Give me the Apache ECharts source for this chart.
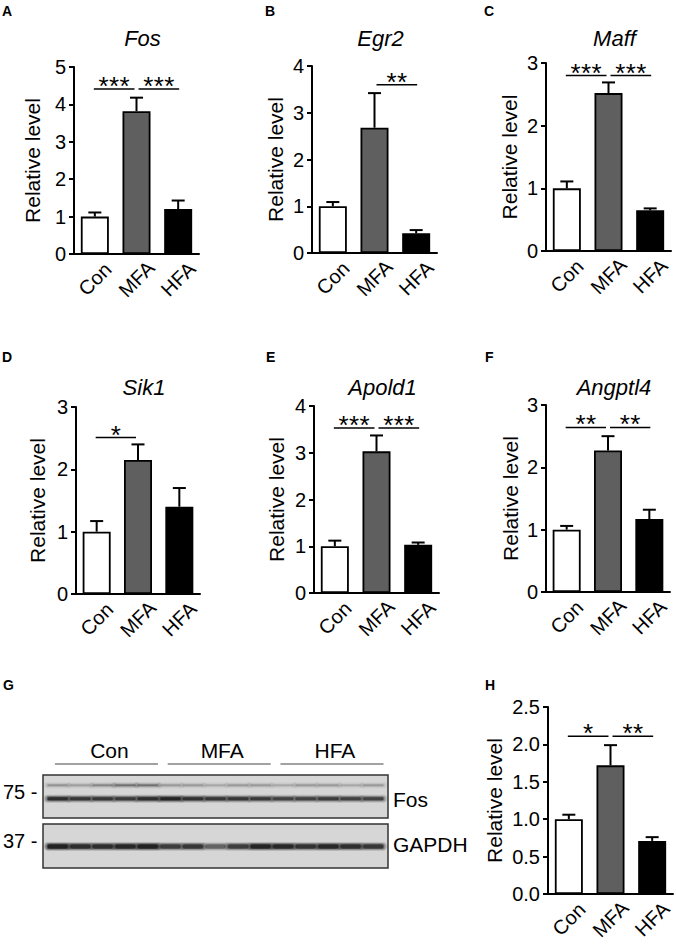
<!DOCTYPE html>
<html>
<head>
<meta charset="utf-8">
<script src="https://cdn.jsdelivr.net/npm/echarts@6/dist/echarts.min.js"></script>
<style>
html,body{margin:0;padding:0;background:#fff;}
#chart{width:676px;height:946px;}
</style>
</head>
<body>
<div id="chart"></div>
<script>
// ---------------- DATA ----------------
const categories = ['Con', 'MFA', 'HFA'];
const geneNames = ['Fos', 'Egr2', 'Maff', 'Sik1', 'Apold1', 'Angptl4'];
const panelLetters = ['A', 'B', 'C', 'D', 'E', 'F', 'G', 'H'];

// means and SEM (upper whisker) per panel
const fosMean = [1.0, 3.82, 1.2];
const fosSem = [0.11, 0.36, 0.23];
const egr2Mean = [1.0, 2.68, 0.42];
const egr2Sem = [0.09, 0.74, 0.07];
const maffMean = [1.0, 2.52, 0.65];
const maffSem = [0.11, 0.17, 0.03];
const sik1Mean = [1.0, 2.15, 1.4];
const sik1Sem = [0.17, 0.25, 0.3];
const apold1Mean = [1.0, 3.03, 1.03];
const apold1Sem = [0.12, 0.34, 0.05];
const angptl4Mean = [1.0, 2.27, 1.17];
const angptl4Sem = [0.06, 0.23, 0.15];
const proteinMean = [1.0, 1.72, 0.71];
const proteinSem = [0.06, 0.27, 0.05];

// significance brackets: [fromCategory, toCategory, level, numberOfStars]
const fosSig = [[0, 1, 4.41, 3], [1, 2, 4.41, 3]];
const egr2Sig = [[1, 2, 3.6, 2]];
const maffSig = [[0, 1, 2.8, 3], [1, 2, 2.8, 3]];
const sik1Sig = [[0, 1, 2.51, 1]];
const apold1Sig = [[0, 1, 3.53, 3], [1, 2, 3.53, 3]];
const angptl4Sig = [[0, 1, 2.64, 2], [1, 2, 2.64, 2]];
const proteinSig = [[0, 1, 2.11, 1], [1, 2, 2.11, 2]];

// y-axis maxima / tick intervals
const yMax = [5, 4, 3, 3, 4, 3, 2.5];
const yInterval = [1, 1, 1, 1, 1, 1, 0.5];

// western blot (panel G): 15 lanes, band intensities (0..1)
const blotGroups = [[1, 5], [6, 10], [11, 15]];
const fosBand = [0.85, 0.75, 0.75, 0.72, 0.85, 0.95, 0.8, 0.75, 0.75, 0.72, 0.66, 0.66, 0.7, 0.66, 0.66];
const fosUpperBand = [0.22, 0.18, 0.28, 0.38, 0.38, 0.2, 0.2, 0.15, 0.2, 0.2, 0.15, 0.2, 0.2, 0.15, 0.2];
const gapdhBand = [1.0, 0.85, 0.85, 0.9, 1.0, 0.7, 0.75, 0.45, 0.7, 0.95, 0.9, 0.8, 0.9, 0.85, 0.75];
const markerLabels = ['75 -', '37 -'];
const blotLabels = ['Fos', 'GAPDH'];

// ---------------- LAYOUT / STYLE ----------------
const FONT = 'Arial, "Liberation Sans", Helvetica, sans-serif';
const barColors = ['#ffffff', '#5f5f5f', '#000000'];
const grids = [
  {left: 74, top: 67, width: 125, height: 187},
  {left: 312, top: 66, width: 125, height: 187},
  {left: 546, top: 63, width: 125, height: 188},
  {left: 76, top: 407, width: 124, height: 187},
  {left: 314, top: 406, width: 125, height: 187},
  {left: 546, top: 405, width: 124, height: 187},
  {left: 548, top: 707, width: 125, height: 187}
];
const nameGaps = [31, 26, 26, 28, 27, 25, 43];
const titleTops = [22, 22, 22, 371, 371, 371];
const blotGrids = [
  {left: 43, top: 775, width: 345, height: 43},
  {left: 43, top: 824, width: 345, height: 44}
];

const panels = [
  [fosMean, fosSem, fosSig],
  [egr2Mean, egr2Sem, egr2Sig],
  [maffMean, maffSem, maffSig],
  [sik1Mean, sik1Sem, sik1Sig],
  [apold1Mean, apold1Sem, apold1Sig],
  [angptl4Mean, angptl4Sem, angptl4Sig],
  [proteinMean, proteinSem, proteinSig]
];

function errRender(params, api) {
  const i = api.value(0), m = api.value(1), s = api.value(2);
  const p0 = api.coord([i, m]);
  const p1 = api.coord([i, m + s]);
  return {
    type: 'group',
    children: [
      {type: 'line', shape: {x1: p0[0], y1: p0[1], x2: p1[0], y2: p1[1]}, style: {stroke: '#000', lineWidth: 2}},
      {type: 'line', shape: {x1: p1[0] - 6.5, y1: p1[1], x2: p1[0] + 6.5, y2: p1[1]}, style: {stroke: '#000', lineWidth: 2}}
    ]
  };
}

function sigRender(params, api) {
  const a = api.value(0), b = api.value(1), lv = api.value(2), n = api.value(3);
  const pa = api.coord([a, lv]), pb = api.coord([b, lv]);
  const x1 = pa[0] + (a === 1 ? 2 : -1);
  const x2 = pb[0] + (b === 1 ? -2 : 1);
  const children = [
    {type: 'line', shape: {x1: x1, y1: pa[1], x2: x2, y2: pa[1]}, style: {stroke: '#000', lineWidth: 1.5}}
  ];
  const cx = (x1 + x2) / 2;
  for (let k = 0; k < n; k++) {
    children.push({
      type: 'text',
      style: {
        text: '*', x: cx + (k - (n - 1) / 2) * 10.5, y: pa[1] - 3,
        fill: '#000', font: '26px ' + FONT,
        textAlign: 'center', textVerticalAlign: 'middle', align: 'center', verticalAlign: 'middle'
      }
    });
  }
  return {type: 'group', children: children};
}

const option = {
  animation: false,
  backgroundColor: '#ffffff',
  title: [],
  grid: [],
  xAxis: [],
  yAxis: [],
  series: [],
  graphic: []
};

panels.forEach((p, gi) => {
  const [mean, sem, sig] = p;
  const g = grids[gi];
  option.grid.push(Object.assign({containLabel: false}, g));
  option.xAxis.push({
    type: 'category', gridIndex: gi, data: categories,
    axisLine: {lineStyle: {color: '#000', width: 2}},
    axisTick: {alignWithLabel: true, length: 6, lineStyle: {color: '#000', width: 2}},
    axisLabel: {
      rotate: 45, color: '#000', fontSize: 20, fontFamily: FONT, margin: 25,
      align: 'center', verticalAlign: 'middle', interval: 0
    }
  });
  option.yAxis.push({
    type: 'value', gridIndex: gi, min: 0, max: yMax[gi], interval: yInterval[gi],
    name: 'Relative level', nameLocation: 'middle', nameGap: nameGaps[gi],
    nameTextStyle: {color: '#000', fontSize: 21, fontFamily: FONT},
    splitLine: {show: false},
    axisLine: {show: true, lineStyle: {color: '#000', width: 2}},
    axisTick: {show: true, length: 5, lineStyle: {color: '#000', width: 2}},
    axisLabel: {
      color: '#000', fontSize: 20, fontFamily: FONT, margin: 8,
      formatter: gi === 6 ? (v => v.toFixed(1)) : (v => String(v))
    }
  });
  option.series.push({
    type: 'bar', xAxisIndex: gi, yAxisIndex: gi, barWidth: 28,
    data: mean.map((v, i) => ({value: v, itemStyle: {color: barColors[i], borderColor: '#000', borderWidth: 1.8}})),
    z: 2
  });
  option.series.push({
    type: 'custom', xAxisIndex: gi, yAxisIndex: gi, renderItem: errRender,
    data: mean.map((v, i) => [i, v, sem[i]]), z: 3, clip: false
  });
  option.series.push({
    type: 'custom', xAxisIndex: gi, yAxisIndex: gi, renderItem: sigRender,
    data: sig, z: 3, clip: false
  });
  if (gi < 6) {
    option.title.push({
      text: geneNames[gi], left: g.left + g.width / 2 + 1, top: titleTops[gi], textAlign: 'center',
      textStyle: {fontSize: 22, fontStyle: 'italic', fontWeight: 'normal', color: '#000', fontFamily: FONT}
    });
  }
});

// ---- panel G: western blot ----
blotGrids.forEach((g, bi) => {
  const gi = 7 + bi;
  option.grid.push(Object.assign({show: true, backgroundColor: '#d6d6d6', borderColor: '#333', borderWidth: 1.5}, g));
  option.xAxis.push({type: 'value', gridIndex: gi, min: 0.35, max: 15.65, show: false});
  option.yAxis.push({type: 'value', gridIndex: gi, min: 0, max: 1, show: false});
});

function bandRender(yPos, h) {
  return function (params, api) {
    const lane = api.value(0), inten = api.value(1);
    const c = api.coord([lane, yPos]);
    const layers = [[8, 5, 0.18], [5, 3, 0.3], [2, 1.2, 0.5], [0, 0, 0.75]];
    return {
      type: 'group',
      children: layers.map(L => ({
        type: 'rect',
        shape: {x: c[0] - 10 - L[0] / 2, y: c[1] - (h + L[1]) / 2, width: 20 + L[0], height: h + L[1], r: (h + L[1]) / 2},
        style: {fill: 'rgba(20,20,20,' + (inten * L[2]).toFixed(3) + ')'}
      }))
    };
  };
}
option.series.push({
  type: 'custom', xAxisIndex: 7, yAxisIndex: 7, renderItem: bandRender(0.45, 3),
  data: fosBand.map((v, i) => [i + 1, v])
});
option.series.push({
  type: 'custom', xAxisIndex: 7, yAxisIndex: 7, renderItem: bandRender(0.76, 1.5),
  data: fosUpperBand.map((v, i) => [i + 1, v])
});
option.series.push({
  type: 'custom', xAxisIndex: 8, yAxisIndex: 8, renderItem: bandRender(0.49, 4),
  data: gapdhBand.map((v, i) => [i + 1, v])
});
// group labels above blot
option.series.push({
  type: 'custom', xAxisIndex: 7, yAxisIndex: 7, clip: false,
  renderItem: function (params, api) {
    const a = api.value(0), b = api.value(1);
    const p1 = api.coord([a - 0.12, 1]), p2 = api.coord([b + 0.45, 1]);
    const y = p1[1] - 11;
    return {
      type: 'group', children: [
        {type: 'line', shape: {x1: p1[0], y1: y, x2: p2[0], y2: y}, style: {stroke: '#444', lineWidth: 1}},
        {type: 'text', style: {text: categories[params.dataIndex], x: (p1[0] + p2[0]) / 2 + 3, y: y - 14,
          font: '21px ' + FONT, fill: '#000', textAlign: 'center', textVerticalAlign: 'middle', align: 'center', verticalAlign: 'middle'}}
      ]
    };
  },
  data: blotGroups
});

// ---- text annotations ----
const letterPos = [[2, 4], [265, 4], [484, 4], [2, 350], [266, 350], [485, 350], [3, 678], [485, 678]];
panelLetters.forEach((L, i) => {
  option.graphic.push({
    type: 'text', left: letterPos[i][0], top: letterPos[i][1],
    style: {text: L, font: 'bold 14px ' + FONT, fill: '#000'}
  });
});
markerLabels.forEach((t, i) => {
  option.graphic.push({
    type: 'text', left: 3, top: [782, 831][i],
    style: {text: t, font: '20px ' + FONT, fill: '#000'}
  });
});
blotLabels.forEach((t, i) => {
  option.graphic.push({
    type: 'text', left: 393, top: [789, 834][i],
    style: {text: t, font: '21px ' + FONT, fill: '#000'}
  });
});

const chart = echarts.init(document.getElementById('chart'), null, {renderer: 'svg', width: 676, height: 946});
chart.setOption(option);
</script>
</body>
</html>
